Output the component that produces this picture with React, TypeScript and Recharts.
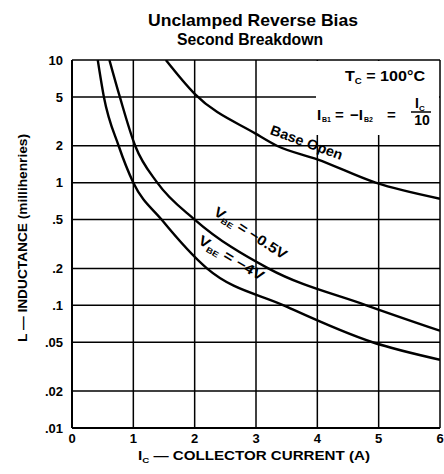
import {
  CartesianGrid,
  Customized,
  Line,
  LineChart,
  XAxis,
  YAxis,
} from "recharts";

// I_C (A) ticks and L (mH) ticks
const currentTicks = [0, 1, 2, 3, 4, 5, 6];
const inductanceTicks = [0.01, 0.02, 0.05, 0.1, 0.2, 0.5, 1, 2, 5, 10];
const inductanceTickLabels = [".01", ".02", ".05", ".1", ".2", ".5", "1", "2", "5", "10"];

// curves
const vbe4Current = [0.42, 0.52, 0.76, 1.0, 1.46, 2.2, 3.45, 4.9, 6];
const vbe4Inductance = [10, 5, 2, 1, 0.5, 0.2, 0.1, 0.05, 0.036];

const vbe05Current = [0.61, 0.78, 1.03, 1.39, 2.0, 3.2, 4.8, 6];
const vbe05Inductance = [10, 5, 2, 1, 0.5, 0.2, 0.1, 0.062];

const baseOpenCurrent = [1.53, 2, 3, 3.34, 4, 4.95, 6];
const baseOpenInductance = [10, 5.3, 2.5, 2, 1.55, 1, 0.74];

type Pt = { ic: number; l: number };

const toPoints = (xs: number[], ys: number[]): Pt[] =>
  xs.map((ic, i) => ({ ic, l: ys[i] }));

const vbe4Data = toPoints(vbe4Current, vbe4Inductance);
const vbe05Data = toPoints(vbe05Current, vbe05Inductance);
const baseOpenData = toPoints(baseOpenCurrent, baseOpenInductance);

const FONT = '"Liberation Sans", Arial, Helvetica, sans-serif';
const tickStyle = { fill: "#000", fontSize: 13, fontWeight: 700, fontFamily: FONT };

function Annotations() {
  return (
    <g fontFamily={FONT} fontWeight={700} fill="#000">
      {/* title */}
      <text x={253} y={26} fontSize={17} textAnchor="middle" textLength={210} lengthAdjust="spacingAndGlyphs">
        Unclamped Reverse Bias
      </text>
      <text x={250} y={45} fontSize={17} textAnchor="middle" textLength={146} lengthAdjust="spacingAndGlyphs">
        Second Breakdown
      </text>

      {/* axis titles */}
      <text
        transform="translate(27,238) rotate(-90)"
        fontSize={13}
        textAnchor="middle"
        textLength={208}
        lengthAdjust="spacingAndGlyphs"
      >
        L — INDUCTANCE (millihenries)
      </text>
      <text x={254} y={460} fontSize={12.5} textAnchor="middle" textLength={232} lengthAdjust="spacingAndGlyphs">
        I<tspan fontSize={8} dy={3}>C</tspan>
        <tspan dy={-3}> — COLLECTOR CURRENT (A)</tspan>
      </text>

      {/* conditions box, blanks the grid behind it */}
      <rect x={316} y={61} width={123} height={74} fill="#fff" />
      <text x={345} y={81} fontSize={15} textLength={80} lengthAdjust="spacingAndGlyphs">
        T<tspan fontSize={9} dy={3}>C</tspan>
        <tspan dy={-3}> = 100°C</tspan>
      </text>
      <text y={120} fontSize={15}>
        <tspan x={317}>I</tspan>
        <tspan x={322} fontSize={7} dy={2}>B1</tspan>
        <tspan x={335} dy={-2}>=</tspan>
        <tspan x={350}>−I</tspan>
        <tspan x={364} fontSize={7} dy={2}>B2</tspan>
        <tspan x={387} dy={-2}>=</tspan>
      </text>
      <text x={415} y={108} fontSize={14}>
        I<tspan fontSize={8} dy={3}>C</tspan>
      </text>
      <line x1={411} x2={431} y1={112} y2={112} stroke="#000" strokeWidth={1.5} />
      <text x={422} y={125} fontSize={14} textAnchor="middle">
        10
      </text>

      {/* curve labels */}
      <text
        transform="translate(305,147) rotate(20)"
        fontSize={14}
        textAnchor="middle"
        textLength={76}
        lengthAdjust="spacingAndGlyphs"
      >
        Base Open
      </text>
      <text
        transform="translate(248,237) rotate(33)"
        fontSize={14}
        textAnchor="middle"
        textLength={84}
        lengthAdjust="spacingAndGlyphs"
      >
        V<tspan fontSize={8} dy={3}>BE</tspan>
        <tspan dy={-3}> = −0.5V</tspan>
      </text>
      <text
        transform="translate(229,262) rotate(31)"
        fontSize={14}
        textAnchor="middle"
        textLength={74}
        lengthAdjust="spacingAndGlyphs"
      >
        V<tspan fontSize={8} dy={3}>BE</tspan>
        <tspan dy={-3}> = −4V</tspan>
      </text>
    </g>
  );
}

export default function App() {
  return (
    <div style={{ position: "absolute", left: 0, top: 0, width: 444, height: 474, background: "#fff" }}>
      <LineChart width={444} height={474} margin={{ top: 60, right: 4, left: 42, bottom: 26 }}>
        <CartesianGrid stroke="#000" strokeWidth={1.5} />
        <XAxis
          dataKey="ic"
          type="number"
          domain={[0, 6]}
          ticks={currentTicks}
          tickLine={false}
          axisLine={{ stroke: "#000", strokeWidth: 2 }}
          tick={tickStyle}
          tickSize={6}
          tickMargin={0}
          height={20}
          allowDataOverflow
        />
        <YAxis
          dataKey="l"
          type="number"
          scale="log"
          domain={[0.01, 10]}
          ticks={inductanceTicks}
          tickFormatter={(v: number) => inductanceTickLabels[inductanceTicks.indexOf(v)] ?? ""}
          tickLine={false}
          axisLine={{ stroke: "#000", strokeWidth: 2 }}
          tick={tickStyle}
          tickSize={6}
          tickMargin={3}
          width={30}
          allowDataOverflow
        />
        <Line
          data={baseOpenData}
          dataKey="l"
          type="monotone"
          stroke="#000"
          strokeWidth={2.4}
          dot={false}
          isAnimationActive={false}
        />
        <Line
          data={vbe05Data}
          dataKey="l"
          type="monotone"
          stroke="#000"
          strokeWidth={2.4}
          dot={false}
          isAnimationActive={false}
        />
        <Line
          data={vbe4Data}
          dataKey="l"
          type="monotone"
          stroke="#000"
          strokeWidth={2.4}
          dot={false}
          isAnimationActive={false}
        />
        <Customized component={<Annotations />} />
      </LineChart>
    </div>
  );
}
